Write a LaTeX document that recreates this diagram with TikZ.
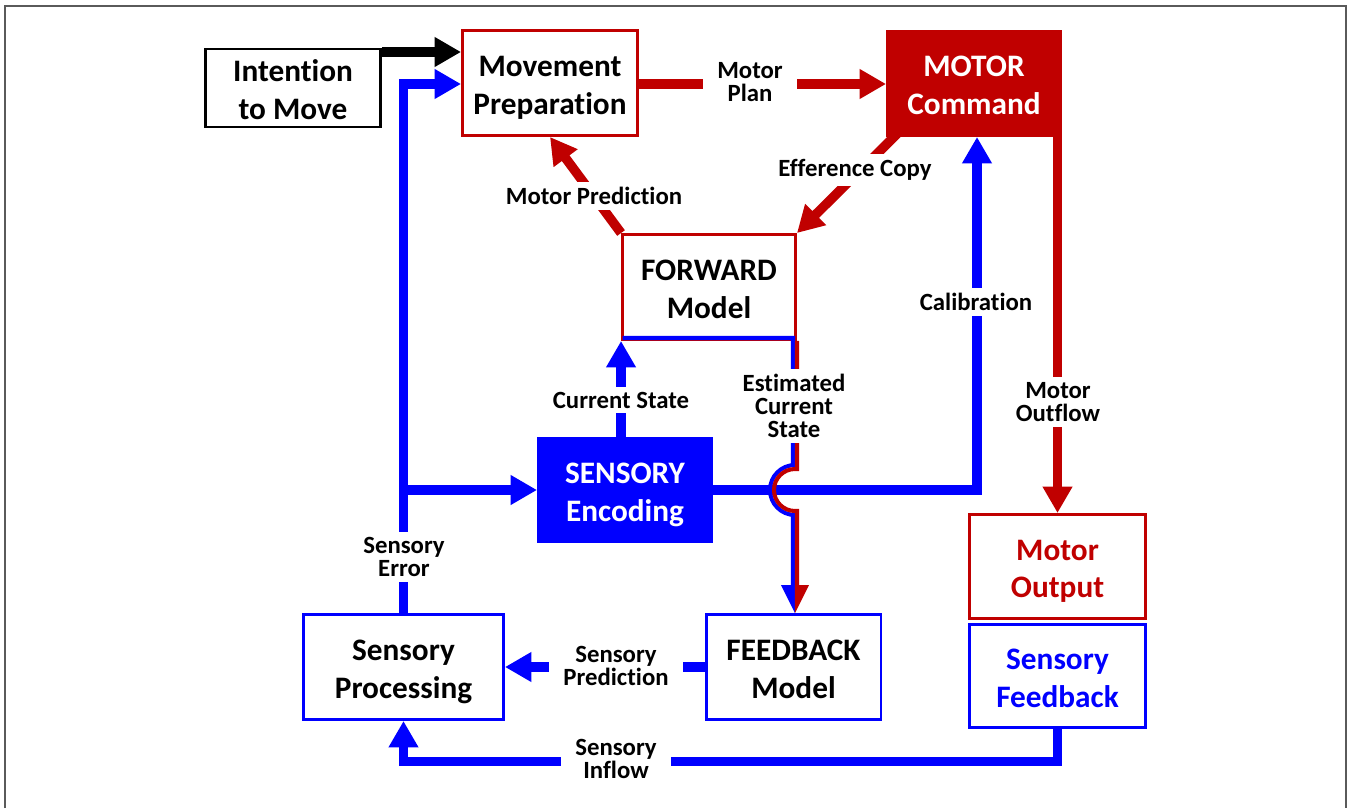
\documentclass[tikz,border=0pt]{standalone}
\usepackage{fontspec}
\setmainfont{Carlito}[Ligatures=NoCommon]
\usetikzlibrary{positioning,arrows.meta,calc,backgrounds}
\definecolor{motorred}{HTML}{C00000}
\definecolor{sensblue}{HTML}{0000FF}
\definecolor{framegray}{HTML}{5A5A5A}

\begin{document}
\begin{tikzpicture}[x=0.02cm,y=0.02cm,
    box/.style={draw, line width=1.7pt, fill=white, inner sep=0pt, align=center,
      text height=40pt, text depth=4.4pt,
      font=\fontsize{17.8}{21.5}\selectfont\bfseries},
    lbl/.style={fill=white, inner xsep=8pt, inner ysep=3pt, align=center,
      font=\fontsize{14.1}{13}\selectfont\bfseries},
    flow/.style={line width=5.4pt},
    flowarrow/.style={-{Triangle[length=15pt,width=16pt]}},
  ]
    \useasboundingbox (0,0) rectangle (1348,-808);

    % frame
    \draw[framegray, line width=0.9pt] (5,-808) -- (5,-6) -- (1346,-6) -- (1346,-808);

    % boxes
    \node[box, minimum width=3.5cm, minimum height=1.54cm] (intent) at (293,-88) {Intention\\to Move};
    \node[box, draw=motorred, minimum width=3.5cm, minimum height=2.1cm] (prep) at (550,-83) {Movement\\Preparation};
    \node[box, draw=motorred, fill=motorred, text=white, minimum width=3.46cm, minimum height=2.08cm] (motor) at (974,-83.5) {MOTOR\\Command};
    \node[box, draw=motorred, minimum width=3.46cm, minimum height=2.1cm] (fwd) at (709,-287) {FORWARD\\Model};
    \node[box, draw=sensblue, fill=sensblue, text=white, minimum width=3.46cm, minimum height=2.06cm] (enc) at (625,-490) {SENSORY\\Encoding};
    \node[box, draw=sensblue, minimum width=4cm, minimum height=2.1cm] (proc) at (403.5,-667) {Sensory\\Processing};
    \node[box, draw=sensblue, minimum width=3.5cm, minimum height=2.1cm] (fb) at (793.5,-667) {FEEDBACK\\Model};
    \node[box, draw=motorred, text=motorred, minimum width=3.52cm, minimum height=2.08cm] (out) at (1057.5,-566.5) {Motor\\Output};
    \node[box, draw=sensblue, text=sensblue, minimum width=3.52cm, minimum height=2.06cm] (sfb) at (1057.5,-676) {Sensory\\Feedback};

    % connectors
    \begin{scope}[on background layer]
      \draw[flow, flowarrow, black] (intent.east |- 0,-52) -- (prep.west |- 0,-52);
      \draw[flow, flowarrow, sensblue] (proc.north) -- (proc.north |- 0,-84) -- (prep.west |- 0,-84);
      \draw[flow, flowarrow, sensblue] (proc.north |- enc.west) -- (enc.west);
      \draw[flow, flowarrow, motorred] (prep.east |- 0,-84) -- (motor.west |- 0,-84);
      \draw[flow, flowarrow, motorred] ($(motor.south west)+(14,6)$) -- (fwd.north east);
      \draw[flow, flowarrow, motorred] (fwd.north west) -- (prep.south);
      \draw[flow, flowarrow, sensblue] (fwd.south west |- enc.north) -- (fwd.south west);
      \draw[flow, flowarrow, sensblue] (enc.east) -| ($(motor.south)+(3,0)$);
      \draw[flow, flowarrow, motorred] (out.north |- motor.center) -- (out.north);
      \draw[flow, flowarrow, sensblue] (sfb.south) -- (sfb.south |- 0,-761.5) -| (proc.south);
      \draw[flow, flowarrow, sensblue] (fb.west) -- (proc.east);
    \end{scope}

    % estimated current state: blue/red pair with a hop
    \coordinate (hop) at ($(fwd.south east |- enc.east)+(-2,0)$);
    \coordinate (esttip) at (hop |- fb.north);
    \draw[sensblue, line width=2.3pt] ($(fwd.south west)+(1.5,3)$) -- ($(fwd.south east)+(-4,3)$)
      -- ($(hop)+(-2,25)$) -- ($(hop)+(0,25)$) arc[start angle=90, end angle=270, radius=0.5cm]
      -- ($(hop)+(-2,-25)$) -- ($(esttip)+(-2,28)$);
    \draw[motorred, line width=2.3pt] (fwd.south east)
      -- ($(hop)+(2,21)$) -- ($(hop)+(0,21)$) arc[start angle=90, end angle=270, radius=0.42cm]
      -- ($(hop)+(2,-21)$) -- ($(esttip)+(2,28)$);
    \fill[sensblue] ($(esttip)+(-14,28)$) -- ($(esttip)+(0,28)$) -- (esttip) -- cycle;
    \fill[motorred] ($(esttip)+(14,28)$) -- ($(esttip)+(0,28)$) -- (esttip) -- cycle;

    % labels
    \node[lbl] (plan) at (750,-82) {Motor\\Plan};
    \node[lbl] (effcopy) at (855,-170) {Efference Copy};
    \node[lbl] (motpred) at (594,-196) {Motor Prediction};
    \node[lbl] (curstate) at (621,-400) {Current State};
    \node[lbl] (eststate) at (794,-406) {Estimated\\Current\\State};
    \node[lbl] (calib) at (976,-302) {Calibration};
    \node[lbl] (outflow) at (1058,-402) {Motor\\Outflow};
    \node[lbl] (senserr) at (404,-557) {Sensory\\Error};
    \node[lbl] (senspred) at (616,-666) {Sensory\\Prediction};
    \node[lbl] (inflow) at (616,-759) {Sensory\\Inflow};
  \end{tikzpicture}
\end{document}
